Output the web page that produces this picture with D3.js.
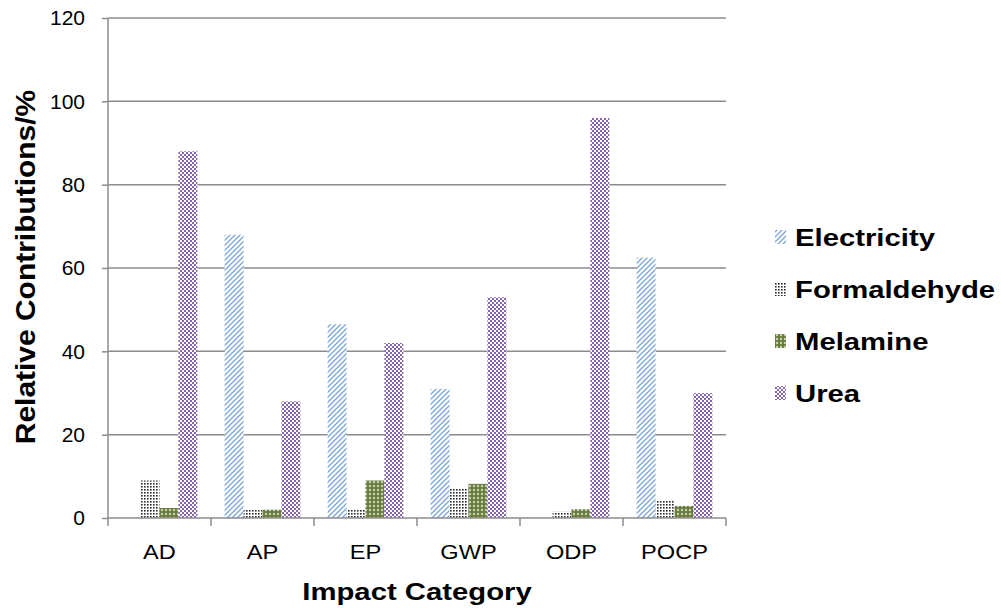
<!DOCTYPE html>
<html>
<head>
<meta charset="utf-8">
<script src="https://cdn.jsdelivr.net/npm/d3@7"></script>
<style>
  body { margin: 0; background: #fff; }
  text { font-family: "Liberation Sans", Arial, sans-serif; }
</style>
</head>
<body>
<div id="container"></div>
<script>
/* CONSTANTS AND GLOBALS */
const width = 1001;
const height = 608;
const margin = { top: 18, right: 275, bottom: 90, left: 108 };

/* DATA */
const categories = ["AD", "AP", "EP", "GWP", "ODP", "POCP"];
const seriesNames = ["Electricity", "Formaldehyde", "Melamine", "Urea"];
const electricity = [0, 68, 46.5, 31, 0, 62.5];
const formaldehyde = [9, 2, 2, 7.2, 1.5, 4.3];
const melamine = [2.4, 2, 9, 8.2, 2.1, 2.9];
const urea = [88, 28, 42, 53, 96, 30];
const yTicks = [0, 20, 40, 60, 80, 100, 120];

const seriesValues = [electricity, formaldehyde, melamine, urea];
const rows = [];
categories.forEach((c, i) => {
  seriesNames.forEach((s, j) => rows.push({ cat: c, series: s, value: seriesValues[j][i] }));
});

const svg = d3.select("#container").append("svg")
  .attr("width", width)
  .attr("height", height);

/* PATTERNS */
const defs = svg.append("defs");

// Electricity: light blue diagonal stripes
const pElec = defs.append("pattern").attr("id", "p-Electricity")
  .attr("patternUnits", "userSpaceOnUse").attr("width", 5).attr("height", 5);
pElec.append("rect").attr("width", 5).attr("height", 5).attr("fill", "#fff");
pElec.append("path").attr("d", "M-1,1 l2,-2 M0,5 l5,-5 M4,6 l2,-2")
  .attr("stroke", "#79a5df").attr("stroke-width", 1.3);

// Formaldehyde: small dark dots
const pForm = defs.append("pattern").attr("id", "p-Formaldehyde")
  .attr("patternUnits", "userSpaceOnUse").attr("width", 3).attr("height", 3);
pForm.append("rect").attr("width", 3).attr("height", 3).attr("fill", "#fff");
pForm.append("rect").attr("width", 1.6).attr("height", 1.6).attr("fill", "#2b2b2b");

// Melamine: olive green with light diamonds
const pMel = defs.append("pattern").attr("id", "p-Melamine")
  .attr("patternUnits", "userSpaceOnUse").attr("width", 4).attr("height", 4);
pMel.append("rect").attr("width", 4).attr("height", 4).attr("fill", "#677c3a");
pMel.append("path").attr("d", "M2,0.6 L3.4,2 L2,3.4 L0.6,2 Z").attr("fill", "#d8dfc8");

// Urea: purple checkerboard
const pUrea = defs.append("pattern").attr("id", "p-Urea")
  .attr("patternUnits", "userSpaceOnUse").attr("width", 4).attr("height", 4);
pUrea.append("rect").attr("width", 4).attr("height", 4).attr("fill", "#8565ad");
pUrea.append("rect").attr("width", 2).attr("height", 2).attr("fill", "#fff");
pUrea.append("rect").attr("x", 2).attr("y", 2).attr("width", 2).attr("height", 2).attr("fill", "#fff");

/* SCALES */
const x0 = margin.left, x1 = width - margin.right;

const xScale = d3.scaleBand()
  .domain(categories)
  .range([x0, x1]);

const xInner = d3.scaleBand()
  .domain(seriesNames)
  .range([0, xScale.bandwidth()])
  .paddingInner(0)
  .paddingOuter(0.72);

const yScale = d3.scaleLinear()
  .domain([0, 120])
  .range([height - margin.bottom, margin.top]);

/* GRIDLINES */
svg.append("g")
  .selectAll("line")
  .data(yTicks.filter(d => d > 0))
  .join("line")
  .attr("x1", x0).attr("x2", x1)
  .attr("y1", d => yScale(d)).attr("y2", d => yScale(d))
  .attr("stroke", "#8c8c8c").attr("stroke-width", 1.5);

/* BARS */
svg.append("g")
  .selectAll("rect")
  .data(rows)
  .join("rect")
  .attr("x", d => xScale(d.cat) + xInner(d.series))
  .attr("y", d => yScale(d.value))
  .attr("width", xInner.bandwidth())
  .attr("height", d => yScale(0) - yScale(d.value))
  .attr("fill", d => `url(#p-${d.series})`);

/* AXES */
const yAxis = d3.axisLeft(yScale).tickValues(yTicks).tickSize(6).tickPadding(17);
const gy = svg.append("g")
  .attr("transform", `translate(${x0},0)`)
  .call(yAxis);
gy.selectAll("path, line").attr("stroke", "#8c8c8c").attr("stroke-width", 1.5);
gy.selectAll("text").attr("font-size", 21).attr("fill", "#000")
  .style("font-family", "'Liberation Sans', Arial, sans-serif");
gy.select(".domain").attr("d", `M0,${yScale(120)}V${yScale(0)}`);

// x axis with ticks at category boundaries
const gx = svg.append("g")
  .attr("transform", `translate(0,${yScale(0)})`);
gx.append("line").attr("x1", x0).attr("x2", x1)
  .attr("stroke", "#8c8c8c").attr("stroke-width", 1.5);
const bounds = categories.map(c => xScale(c)).concat([x1]);
gx.selectAll("line.tick")
  .data(bounds)
  .join("line")
  .attr("class", "tick")
  .attr("x1", d => d).attr("x2", d => d)
  .attr("y1", 0).attr("y2", 8)
  .attr("stroke", "#8c8c8c").attr("stroke-width", 1.5);
gx.selectAll("text")
  .data(categories)
  .join("text")
  .attr("transform", d => `translate(${xScale(d) + xScale.bandwidth() / 2},41) scale(1.18,1)`)
  .attr("text-anchor", "middle")
  .attr("font-size", 20)
  .text(d => d);

/* AXIS TITLES */
svg.append("text")
  .attr("transform", `translate(${(x0 + x1) / 2},600) scale(1.22,1)`)
  .attr("text-anchor", "middle")
  .attr("font-size", 24)
  .attr("font-weight", "bold")
  .text("Impact Category");

svg.append("text")
  .attr("transform", `translate(35,267) rotate(-90) scale(1.07,1)`)
  .attr("text-anchor", "middle")
  .attr("font-size", 28)
  .attr("font-weight", "bold")
  .text("Relative Contributions/%");

/* LEGEND */
const legend = svg.append("g").attr("transform", "translate(775,237)");
const item = legend.selectAll("g")
  .data(seriesNames)
  .join("g")
  .attr("transform", (d, i) => `translate(0,${i * 52})`);
item.append("rect")
  .attr("x", 0).attr("y", -7)
  .attr("width", 11).attr("height", 14)
  .attr("fill", d => `url(#p-${d})`);
item.append("text")
  .attr("transform", "translate(20,9) scale(1.22,1)")
  .attr("font-size", 24)
  .attr("font-weight", "bold")
  .text(d => d);
</script>
</body>
</html>
